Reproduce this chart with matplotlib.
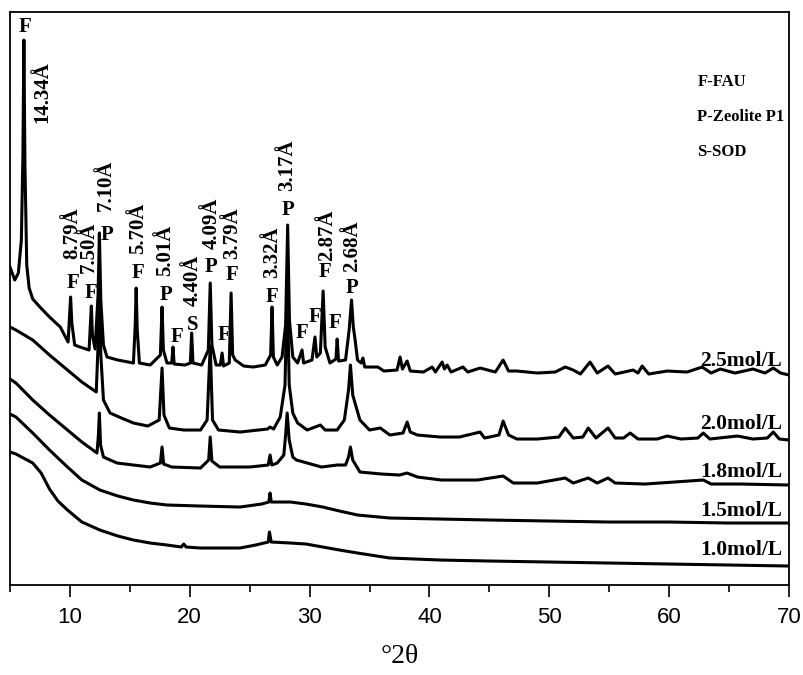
import numpy as np
import matplotlib
matplotlib.use('Agg')
from matplotlib import pyplot as plt
from matplotlib.ticker import MultipleLocator

# XRD patterns (2theta in deg, intensity in a.u.)
tt_25 = [5.0, 5.4, 5.7, 5.95, 6.08, 6.16, 6.25, 6.4, 6.6, 6.9, 7.5, 8.3, 9.2, 9.85, 9.98, 10.06, 10.16, 10.4,
         10.85, 11.6, 11.72, 11.79, 11.88, 12.1, 12.35, 12.46, 12.58, 12.8, 13.1, 14.0, 15.3, 15.45, 15.53, 15.62,
         15.8, 16.7, 17.55, 17.69, 17.8, 18.1, 18.5, 18.6, 18.7, 19.6, 20.05, 20.16, 20.27, 21.0, 21.55, 21.71,
         21.85, 22.2, 22.55, 22.7, 22.82, 23.3, 23.45, 23.58, 23.8, 24.5, 25.3, 26.3, 26.75, 26.87, 26.98, 27.3,
         27.7, 28.0, 28.17, 28.32, 28.6, 29.0, 29.37, 29.5, 30.2, 30.45, 30.6, 30.9, 31.13, 31.3, 31.7, 32.2,
         32.3, 32.42, 33.0, 33.3, 33.5, 33.65, 33.8, 34.0, 34.3, 34.45, 34.6, 35.7, 36.2, 37.3, 37.55, 37.75,
         38.14, 38.4, 39.5, 40.23, 40.5, 41.06, 41.25, 41.48, 41.8, 42.8, 43.2, 44.23, 45.5, 46.15, 46.6, 47.3,
         49.0, 50.5, 51.33, 52.0, 52.6, 53.4, 54.0, 54.9, 55.5, 57.0, 57.4, 57.75, 58.3, 59.84, 61.5, 62.76,
         63.5, 64.27, 65.5, 67.0, 68.0, 68.69, 69.3, 70.0]
I_25 = [318, 305, 312, 345, 430, 545, 420, 320, 297, 286, 278, 268, 258, 243, 270, 288, 262, 240,
        238, 235, 262, 279, 250, 236, 290, 352, 285, 240, 228, 225, 222, 260, 297, 255,
        222, 220, 230, 278, 235, 222, 222, 238, 221, 220, 222, 252, 222, 220, 235, 302,
        240, 220, 220, 232, 219, 222, 292, 230, 225, 219, 218, 220, 230, 278, 228, 220,
        228, 260, 360, 265, 228, 222, 235, 222, 225, 248, 228, 232, 294, 238, 222, 226,
        246, 224, 225, 255, 285, 258, 245, 225, 222, 227, 218, 218, 214, 215, 228, 216,
        224, 214, 213, 218, 213, 223, 216, 220, 213, 218, 213, 217, 213, 225, 214, 214,
        212, 213, 218, 215, 211, 223, 212, 219, 211, 215, 212, 219, 211, 214, 213, 218,
        212, 216, 212, 216, 212, 217, 212, 210]

tt_20 = [5.0, 5.5, 6.9, 8.3, 9.8, 11.0, 12.2, 12.35, 12.45, 12.58, 12.8, 13.35, 14.3, 15.3, 16.5, 17.45, 17.69,
         17.85, 18.3, 19.5, 20.9, 21.45, 21.71, 21.9, 22.4, 24.2, 26.5, 26.7, 27.0, 27.55, 27.95, 28.13, 28.3,
         28.6, 29.0, 29.8, 30.9, 31.3, 32.3, 32.9, 33.25, 33.41, 33.6, 34.2, 35.0, 35.9, 36.7, 37.8, 38.14,
         38.4, 39.0, 40.9, 42.5, 44.23, 44.6, 45.8, 46.15, 46.6, 47.3, 49.0, 50.8, 51.33, 52.0, 52.8, 53.25,
         53.9, 54.9, 55.5, 56.2, 56.75, 57.4, 59.0, 59.84, 61.0, 62.4, 62.85, 63.4, 65.7, 67.0, 68.2, 68.69,
         69.2, 70.0]
I_20 = [258, 255, 245, 230, 215, 203, 193, 240, 308, 230, 185, 172, 167, 162, 159, 165, 217,
        170, 157, 155, 155, 165, 239, 165, 155, 153, 156, 158, 156, 168, 200, 300, 200,
        172, 162, 155, 160, 155, 155, 165, 195, 220, 190, 165, 155, 157, 150, 152, 163,
        153, 150, 148, 148, 153, 147, 150, 164, 150, 146, 146, 148, 157, 147, 148, 157,
        147, 157, 147, 147, 152, 146, 146, 149, 146, 147, 152, 146, 149, 146, 147, 153,
        146, 145]

tt_18 = [5.0, 5.5, 6.9, 8.3, 9.8, 11.0, 12.26, 12.38, 12.46, 12.56, 12.8, 13.93, 15.3, 16.7, 17.55, 17.69,
         17.82, 18.5, 20.9, 21.58, 21.71, 21.85, 22.5, 25.0, 26.55, 26.7, 26.85, 27.3, 27.85, 28.0, 28.13,
         28.3, 28.6, 28.9, 31.0, 32.3, 33.0, 33.25, 33.41, 33.6, 34.2, 36.0, 37.5, 38.14, 39.0, 41.0, 44.0,
         46.15, 47.0, 49.0, 51.33, 52.0, 53.25, 54.0, 54.9, 55.5, 58.0, 62.85, 63.5, 66.0, 70.0]
I_18 = [206, 202, 185, 170, 155, 143, 132, 150, 172, 140, 128, 122, 120, 118, 122, 138,
        121, 118, 117, 125, 148, 124, 118, 118, 120, 130, 120, 122, 130, 150, 172,
        145, 128, 125, 118, 120, 120, 128, 138, 125, 113, 111, 110, 112, 108, 105, 105,
        109, 102, 102, 107, 102, 107, 102, 107, 102, 101, 105, 101, 101, 100]

tt_15 = [5.0, 5.5, 6.9, 8.3, 9.8, 11.0, 12.5, 14.0, 15.3, 16.7, 18.1, 20.9, 24.2, 26.0, 26.6, 26.7, 26.8,
         28.4, 29.7, 31.1, 32.5, 34.0, 36.7, 40.9, 45.0, 50.0, 55.0, 60.0, 65.0, 70.0]
I_15 = [171, 168, 152, 135, 118, 105, 95, 89, 85, 82, 80, 79, 78, 81, 83, 92, 83,
        83, 81, 78, 74, 70, 67, 66, 65, 64, 63, 63, 62, 62]

tt_10 = [5.0, 5.5, 6.9, 7.6, 8.3, 9.0, 9.8, 11.0, 12.5, 14.0, 15.3, 16.7, 18.1, 19.3, 19.5, 19.7, 20.9,
         24.2, 25.5, 26.55, 26.65, 26.8, 28.4, 29.7, 31.1, 32.5, 34.0, 36.7, 40.9, 45.0, 50.0, 55.0, 60.0,
         65.0, 70.0]
I_10 = [133, 131, 122, 112, 96, 84, 75, 63, 55, 49, 45, 42, 40, 38, 41, 38, 37,
        37, 40, 43, 53, 43, 42, 41, 38, 35, 32, 27, 25, 24, 23, 22, 21,
        20, 19]

curves = [(tt_25, I_25), (tt_20, I_20), (tt_18, I_18), (tt_15, I_15), (tt_10, I_10)]
conc_labels = ['2.5mol/L', '2.0mol/L', '1.8mol/L', '1.5mol/L', '1.0mol/L']
conc_label_y = [224, 161, 113, 74, 35]

# phase letters above the 2.5mol/L peaks
phase_txt = ['F', 'F', 'F', 'P', 'F', 'P', 'F', 'S', 'P', 'F', 'F', 'F', 'P', 'F', 'F', 'F', 'F', 'P']
phase_x = [6.25, 10.26, 11.76, 13.1, 15.68, 18.02, 18.94, 20.28, 21.78, 22.86, 23.53, 26.87, 28.2,
           29.37, 30.46, 31.29, 32.13, 33.55]
phase_y = [558, 302, 292, 350, 312, 290, 248, 260, 318, 250, 310, 288, 375, 252, 268, 313, 262, 297]

# d-spacings (rotated)
d_txt = ['14.34Å', '8.79Å', '7.50Å', '7.10Å', '5.70Å', '5.01Å', '4.40Å', '4.09Å', '3.79Å', '3.32Å',
         '3.17Å', '2.87Å', '2.68Å']
d_x = [7.67, 10.18, 11.6, 13.0, 15.68, 17.94, 20.28, 21.86, 23.53, 26.87, 28.12, 31.46, 33.55]
d_y = [493, 352, 338, 400, 357, 335, 305, 362, 352, 333, 420, 350, 339]

legend_txt = ['F-FAU', 'P-Zeolite P1', 'S-SOD']
legend_y = [503, 468, 433]

serif = 'Liberation Serif'

fig = plt.figure(figsize=(8.04, 6.75), dpi=100)
ax = fig.add_axes([0.0124, 0.1333, 0.9689, 0.8489])

for tt, I in curves:
    ax.plot(tt, I, color='black', lw=2.2, solid_joinstyle='round')

for s, x, y in zip(phase_txt, phase_x, phase_y):
    ax.text(x, y, s, ha='center', va='center', fontsize=15, fontweight='bold', family=serif)
for s, x, y in zip(d_txt, d_x, d_y):
    ax.text(x, y, s, ha='center', va='center', rotation=90, fontsize=15, fontweight='bold', family=serif)
for s, y in zip(legend_txt, legend_y):
    ax.text(62.35, y, s, ha='left', va='center', fontsize=12, fontweight='bold', family=serif)
for s, y in zip(conc_labels, conc_label_y):
    ax.text(69.45, y, s, ha='right', va='center', fontsize=15.5, fontweight='bold', family=serif)

ax.set_xlim(5, 70)
ax.set_ylim(0, 573)
ax.set_yticks([])
ax.xaxis.set_major_locator(MultipleLocator(10))
ax.xaxis.set_minor_locator(MultipleLocator(5))
ax.tick_params(axis='x', which='major', direction='out', length=8.5, width=1.2, pad=7)
ax.tick_params(axis='x', which='minor', direction='out', length=5, width=1.2)
for lab in ax.get_xticklabels():
    lab.set_fontfamily('Liberation Sans')
    lab.set_fontsize(16)
for sp in ax.spines.values():
    sp.set_linewidth(1.3)
ax.set_xlabel('°2θ', family=serif, fontsize=20, labelpad=12)

fig.savefig('out.png', dpi=100)
